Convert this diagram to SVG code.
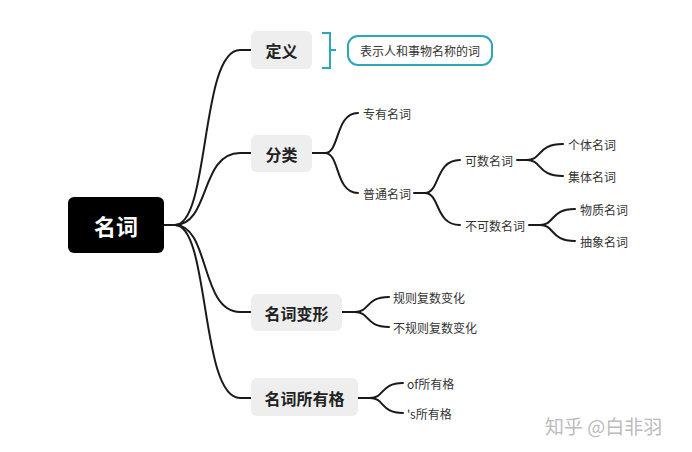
<svg xmlns="http://www.w3.org/2000/svg" width="692" height="452" viewBox="0 0 692 452">
<style>
.c{fill:none;stroke:#1a1a1a;stroke-width:2;stroke-linecap:round}
.n{fill:#eeeeee}
.b{font-family:"Noto Sans CJK SC",sans-serif;font-weight:bold;font-size:16px;fill:#222;text-anchor:middle;dominant-baseline:central}
.t{font-family:"Noto Sans CJK SC",sans-serif;font-size:12px;fill:#333;dominant-baseline:central}
</style>
<rect width="692" height="452" fill="#fff"/>
<g id="connectors">
<path class="c" d="M164,225 H175 C210,225 200,50 240,50 H251"/>
<path class="c" d="M175,225 C210,225 200,153 240,153 H251"/>
<path class="c" d="M175,225 C210,225 200,312 240,312 H251"/>
<path class="c" d="M175,225 C210,225 200,398 240,398 H251"/>
<path class="c" d="M312,153 H325 C340,153 335,113 358,113"/>
<path class="c" d="M325,153 C340,153 335,193 358,193"/>
<path class="c" d="M414,193 H425 C440,193 435,160 460,160"/>
<path class="c" d="M425,193 C440,193 435,225 460,225"/>
<path class="c" d="M517,160 H527 C542,160 537,144 563,144"/>
<path class="c" d="M527,160 C542,160 537,176 563,176"/>
<path class="c" d="M529,225 H540 C555,225 550,209 575,209"/>
<path class="c" d="M540,225 C555,225 550,241 575,241"/>
<path class="c" d="M342,312 H355 C370,312 365,297 389,297"/>
<path class="c" d="M355,312 C370,312 365,327 389,327"/>
<path class="c" d="M358,398 H370 C385,398 380,383 403,383"/>
<path class="c" d="M370,398 C385,398 380,413 403,413"/>
<path d="M322,33 H330 V68 H322 M330,50 H336" fill="none" stroke="#2aa8b8" stroke-width="2"/>
</g>
<g id="root"><rect x="68" y="197" width="96" height="56" rx="6" fill="#000"/><text x="116" y="225" class="b" style="fill:#fff;font-size:22px">名词</text></g>
<g id="dingyi"><rect class="n" x="251" y="31" width="61" height="38" rx="6"/><text x="281.5" y="50" class="b">定义</text></g>
<g id="def"><rect x="348" y="36" width="144" height="29" rx="10" fill="#fff" stroke="#2aa8b8" stroke-width="2"/><text x="420" y="50.5" class="t" text-anchor="middle">表示人和事物名称的词</text></g>
<g id="fenlei"><rect class="n" x="251" y="135" width="61" height="37" rx="6"/><text x="281.5" y="153.5" class="b">分类</text></g>
<g id="bianxing"><rect class="n" x="251" y="294" width="91" height="37" rx="6"/><text x="296.5" y="312.5" class="b">名词变形</text></g>
<g id="suoyouge"><rect class="n" x="251" y="378" width="107" height="38" rx="6"/><text x="304.5" y="398" class="b">名词所有格</text></g>
<g id="leaves">
<text class="t" x="363" y="113">专有名词</text>
<text class="t" x="363" y="193">普通名词</text>
<text class="t" x="465" y="160">可数名词</text>
<text class="t" x="465" y="225">不可数名词</text>
<text class="t" x="568" y="144">个体名词</text>
<text class="t" x="568" y="176">集体名词</text>
<text class="t" x="580" y="209">物质名词</text>
<text class="t" x="580" y="241">抽象名词</text>
<text class="t" x="393" y="297">规则复数变化</text>
<text class="t" x="393" y="327">不规则复数变化</text>
<text class="t" x="407" y="383">of所有格</text>
<text class="t" x="407" y="413">'s所有格</text>
</g>
<text x="545" y="425" font-family="Noto Sans CJK SC,sans-serif" font-size="19" fill="#bbb" dominant-baseline="central">知乎 @白非羽</text>
</svg>
